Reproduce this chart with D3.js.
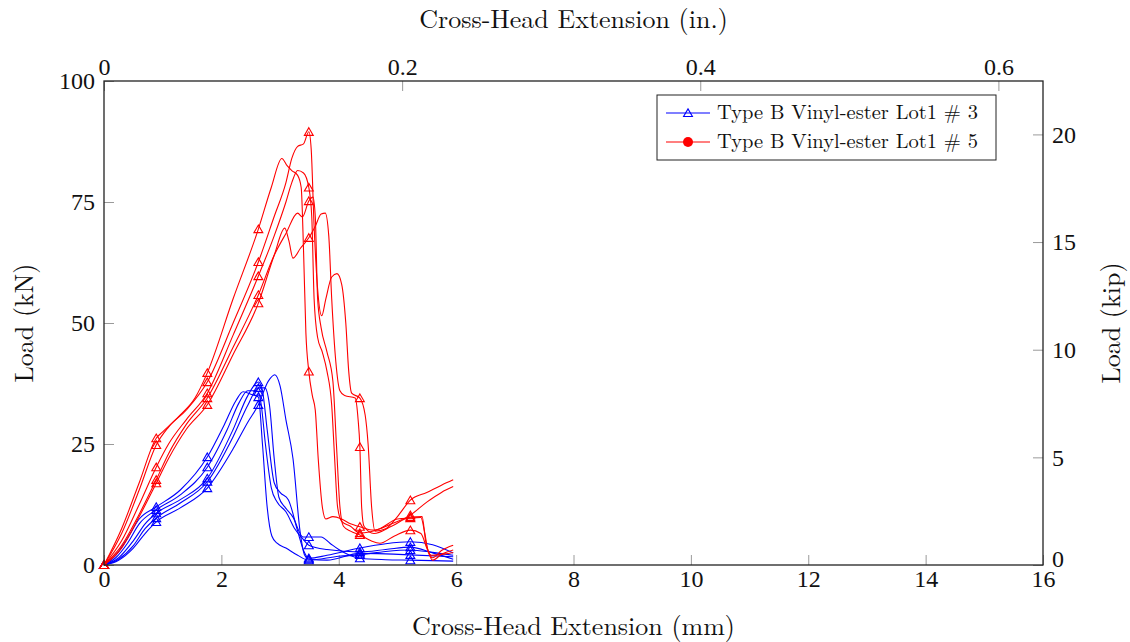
<!DOCTYPE html>
<html lang="en">
<head>
<meta charset="UTF-8">
<title>Load vs Cross-Head Extension</title>
<script src="https://d3js.org/d3.v7.min.js"></script>
<style>
  body { margin: 0; background: #fff; }
  text { font-family: "Latin Modern Roman", "CMU Serif", "Liberation Serif", serif; fill: #111; }
</style>
</head>
<body>
<div id="chart"></div>
<script>
// tick labels
const xTicksMm = [0, 2, 4, 6, 8, 10, 12, 14, 16]
const xTicksIn = [0, 0.2, 0.4, 0.6]
const yTicksKn = [0, 25, 50, 75, 100]
const yTicksKip = [0, 5, 10, 15, 20]
// x positions (mm) that carry a mark
const markX = [0, 0.89, 1.76, 2.63, 3.49, 4.36, 5.22]

const seriesNames = ["Type B Vinyl-ester Lot1 # 3", "Type B Vinyl-ester Lot1 # 5"]

// Lot1 #3 specimens [extension mm, load kN]
const blue1 = [[0,0],[0.2,2],[0.4,5.5],[0.6,9.5],[0.89,12],[1.3,15.5],[1.76,22.3],[2.05,29],[2.25,34],[2.37,35.8],[2.5,35.3],[2.63,34.7],[2.7,25],[2.78,12],[2.86,6],[2.95,4.5],[3.1,3.5],[3.3,2],[3.49,1],[4.0,1.8],[4.36,2.1],[4.8,2.8],[5.22,3.1],[5.6,2.6],[5.95,2]]
const blue2 = [[0,0],[0.2,1.5],[0.4,4.5],[0.6,8.5],[0.89,11.4],[1.3,14.5],[1.76,20.2],[2.1,28],[2.3,33.5],[2.45,36],[2.55,36],[2.63,35.8],[2.68,33],[2.75,25],[2.85,16],[2.95,13],[3.1,11],[3.25,7.5],[3.38,5.5],[3.49,4.1],[3.8,3.2],[4.36,2.7],[4.8,3.2],[5.22,3.7],[5.6,2.5],[5.95,1.2]]
const blue3 = [[0,0],[0.25,1.5],[0.5,5],[0.7,8.5],[0.89,10.7],[1.3,13.5],[1.76,17.9],[2.2,28],[2.45,35],[2.63,37.8],[2.7,36],[2.78,28],[2.9,17],[3.0,15],[3.14,13.5],[3.3,7],[3.4,3],[3.49,1.4],[3.8,2],[4.36,3.5],[4.8,4.4],[5.22,4.8],[5.6,4.2],[5.95,2.5]]
const blue4 = [[0,0],[0.25,1.2],[0.5,4],[0.7,7.5],[0.89,9.7],[1.3,12.8],[1.76,17.2],[2.2,26.5],[2.45,33],[2.63,36.6],[2.74,36.6],[2.82,33],[2.9,22],[2.98,14],[3.08,12],[3.22,9.9],[3.39,5.8],[3.49,5.8],[3.7,5.8],[3.85,4.5],[4.0,3.2],[4.36,1.4],[4.8,1.1],[5.22,1],[5.95,0.8]]
const blue5 = [[0,0],[0.25,1],[0.5,3.5],[0.7,6.5],[0.89,8.9],[1.3,11.8],[1.76,15.9],[2.2,24],[2.45,29.5],[2.63,33.1],[2.8,38],[2.91,39.3],[3.0,37],[3.1,30],[3.22,22],[3.34,7],[3.42,2],[3.49,1.2],[3.8,1],[4.36,2.4],[4.8,2.3],[5.22,2.1],[5.95,1.7]]

// Lot1 #5 specimens [extension mm, load kN]
const red1 = [[0,0],[0.3,6.5],[0.6,15.5],[0.89,24.8],[1.1,28.5],[1.4,32],[1.76,37.8],[2.2,50],[2.63,62.6],[2.9,72],[3.1,79],[3.2,84],[3.3,86.5],[3.4,87],[3.49,89.5],[3.53,86],[3.58,70],[3.64,57],[3.71,51.5],[3.78,55],[3.88,59.5],[3.97,60.2],[4.05,58],[4.12,50],[4.17,40],[4.22,35.5],[4.36,34.5],[4.45,31],[4.5,25],[4.56,12],[4.62,7],[4.8,7.5],[5.0,10],[5.22,13.4],[5.5,15],[5.75,16.5],[5.95,17.6]]
const red2 = [[0,0],[0.3,7.5],[0.6,17],[0.89,26.2],[1.0,27.5],[1.3,31],[1.55,34.5],[1.76,39.7],[2.2,55],[2.63,69.4],[2.85,78],[3.03,84],[3.12,82.5],[3.2,81.5],[3.3,80.5],[3.36,78],[3.4,65],[3.44,48],[3.49,40],[3.55,35],[3.6,32],[3.65,22],[3.72,12],[3.78,9.5],[3.9,10],[4.05,9.5],[4.2,8.5],[4.36,7.9],[4.6,7.2],[4.9,8.5],[5.22,10.3],[5.5,13],[5.75,15],[5.95,16.2]]
const red3 = [[0,0],[0.3,5],[0.6,12.5],[0.89,20.2],[1.1,25],[1.4,30],[1.76,35.5],[2.2,47.5],[2.63,59.7],[2.9,68],[3.1,75],[3.2,79],[3.3,81.5],[3.4,81],[3.49,78],[3.54,72],[3.58,55],[3.64,47],[3.72,44],[3.8,40],[3.88,33],[3.93,22],[3.98,12],[4.05,9],[4.2,8],[4.36,6.6],[4.7,7.5],[5.0,9.5],[5.22,9.7],[5.4,9.8],[5.46,7],[5.52,3],[5.6,1.5],[5.75,3],[5.95,4.1]]
const red4 = [[0,0],[0.3,4],[0.6,10.5],[0.89,17.6],[1.1,23],[1.4,29],[1.76,34.5],[2.2,45],[2.63,55.8],[2.9,64],[3.1,68.5],[3.3,72.7],[3.38,71.9],[3.49,75.2],[3.56,76],[3.6,72],[3.64,55],[3.7,49],[3.8,44],[3.9,38],[3.96,25],[4.02,12],[4.08,8],[4.2,7],[4.36,6.2],[4.55,5],[4.7,4.5],[4.95,6],[5.22,7.2],[5.4,6.5],[5.5,3.5],[5.6,1],[5.75,2.2],[5.95,3.1]]
const red5 = [[0,0],[0.3,3.5],[0.6,10],[0.89,16.9],[1.1,22],[1.4,28],[1.76,33.1],[2.2,43.5],[2.63,54.1],[2.9,64],[3.08,69.6],[3.15,67],[3.22,63.4],[3.35,65.5],[3.49,67.6],[3.6,70],[3.7,72.5],[3.77,72.7],[3.83,68],[3.88,55],[3.95,42],[4.02,36],[4.1,35],[4.28,34.5],[4.33,30],[4.36,24.4],[4.39,12],[4.43,8],[4.6,6.5],[4.9,8],[5.22,9.9],[5.42,10],[5.48,5],[5.58,2],[5.75,2.2],[5.95,2.6]]

const blueCurves = [blue1, blue2, blue3, blue4, blue5]
const redCurves = [red1, red2, red3, red4, red5]

const width = 1130
const height = 642
const margin = {top: 81, right: 87, bottom: 77, left: 104}
const plotW = width - margin.left - margin.right
const plotH = height - margin.top - margin.bottom

const svg = d3.select("#chart").append("svg")
    .attr("width", width)
    .attr("height", height)

const x = d3.scaleLinear().domain([0, 16]).range([margin.left, margin.left + plotW])
const xIn = d3.scaleLinear().domain([0, 16 / 25.4]).range([margin.left, margin.left + plotW])
const y = d3.scaleLinear().domain([0, 100]).range([margin.top + plotH, margin.top])
const yKip = d3.scaleLinear().domain([0, 100 / 4.44822]).range([margin.top + plotH, margin.top])

const fmt = d => String(d)

svg.append("g")
    .attr("transform", `translate(0,${margin.top + plotH})`)
    .call(d3.axisBottom(x).tickValues(xTicksMm).tickFormat(fmt).tickSizeInner(-10).tickSizeOuter(0).tickPadding(5))
svg.append("g")
    .attr("transform", `translate(0,${margin.top})`)
    .call(d3.axisTop(xIn).tickValues(xTicksIn).tickFormat(fmt).tickSizeInner(-10).tickSizeOuter(0).tickPadding(6))
svg.append("g")
    .attr("transform", `translate(${margin.left},0)`)
    .call(d3.axisLeft(y).tickValues(yTicksKn).tickFormat(fmt).tickSizeInner(-10).tickSizeOuter(0).tickPadding(9))
const kipAxis = svg.append("g")
    .attr("transform", `translate(${margin.left + plotW},0)`)
    .call(d3.axisRight(yKip).tickValues(yTicksKip).tickFormat(fmt).tickSizeInner(-10).tickSizeOuter(0).tickPadding(9))
// lift the right "0" a little so it clears the bottom "16"
kipAxis.selectAll(".tick text").filter(d => d === 0).attr("y", -6)

svg.selectAll(".domain").remove()
svg.selectAll(".tick line").attr("stroke", "#9a9a9a").attr("stroke-width", 1)
svg.selectAll(".tick text").attr("font-size", 24).attr("fill", "#111")
    .style("font-family", '"Liberation Serif", serif')

// axis titles
svg.append("text").attr("x", margin.left + plotW / 2).attr("y", 635)
    .attr("text-anchor", "middle").attr("font-size", 26).text("Cross-Head Extension (mm)")
svg.append("text").attr("x", margin.left + plotW / 2).attr("y", 28)
    .attr("text-anchor", "middle").attr("font-size", 26).text("Cross-Head Extension (in.)")
svg.append("text").attr("transform", `translate(33,${margin.top + plotH / 2}) rotate(-90)`)
    .attr("text-anchor", "middle").attr("font-size", 26).text("Load (kN)")
svg.append("text").attr("transform", `translate(1120,${margin.top + plotH / 2}) rotate(-90)`)
    .attr("text-anchor", "middle").attr("font-size", 26).text("Load (kip)")

const line = d3.line().x(d => x(d[0])).y(d => y(d[1])).curve(d3.curveMonotoneX)
const tri = d3.symbol().type(d3.symbolTriangle).size(34)

function isMark(d) {
    return markX.some(m => Math.abs(m - d[0]) < 1e-6)
}

function drawGroup(curves, color) {
    const g = svg.append("g")
    curves.forEach(c => {
        g.append("path")
            .attr("d", line(c))
            .attr("fill", "none")
            .attr("stroke", color)
            .attr("stroke-width", 1.1)
        g.selectAll(null).data(c.filter(isMark)).enter().append("path")
            .attr("d", tri)
            .attr("transform", d => `translate(${x(d[0])},${y(d[1]) + 1})`)
            .attr("fill", "none")
            .attr("stroke", color)
            .attr("stroke-width", 1.1)
    })
}
drawGroup(blueCurves, "#0000ff")
drawGroup(redCurves, "#ff0000")

// frame
svg.append("rect")
    .attr("x", margin.left).attr("y", margin.top)
    .attr("width", plotW).attr("height", plotH)
    .attr("fill", "none").attr("stroke", "#222").attr("stroke-width", 1.3)

// legend
const lg = svg.append("g").attr("transform", "translate(657,95)")
lg.append("rect").attr("width", 339).attr("height", 65)
    .attr("fill", "#fff").attr("stroke", "#222").attr("stroke-width", 1)
const rows = [{name: seriesNames[0], color: "#0000ff", dy: 18}, {name: seriesNames[1], color: "#ff0000", dy: 47}]
rows.forEach((r, i) => {
    lg.append("line").attr("x1", 9).attr("x2", 53).attr("y1", r.dy).attr("y2", r.dy)
        .attr("stroke", r.color).attr("stroke-width", 1.1)
    if (i === 0) {
        lg.append("path").attr("d", tri).attr("transform", `translate(31,${r.dy + 1})`)
            .attr("fill", "none").attr("stroke", r.color).attr("stroke-width", 1.1)
    } else {
        lg.append("circle").attr("cx", 31).attr("cy", r.dy).attr("r", 5).attr("fill", r.color)
    }
    lg.append("text").attr("x", 60).attr("y", r.dy + 6).attr("font-size", 20.5).text(r.name)
})
</script>
</body>
</html>
